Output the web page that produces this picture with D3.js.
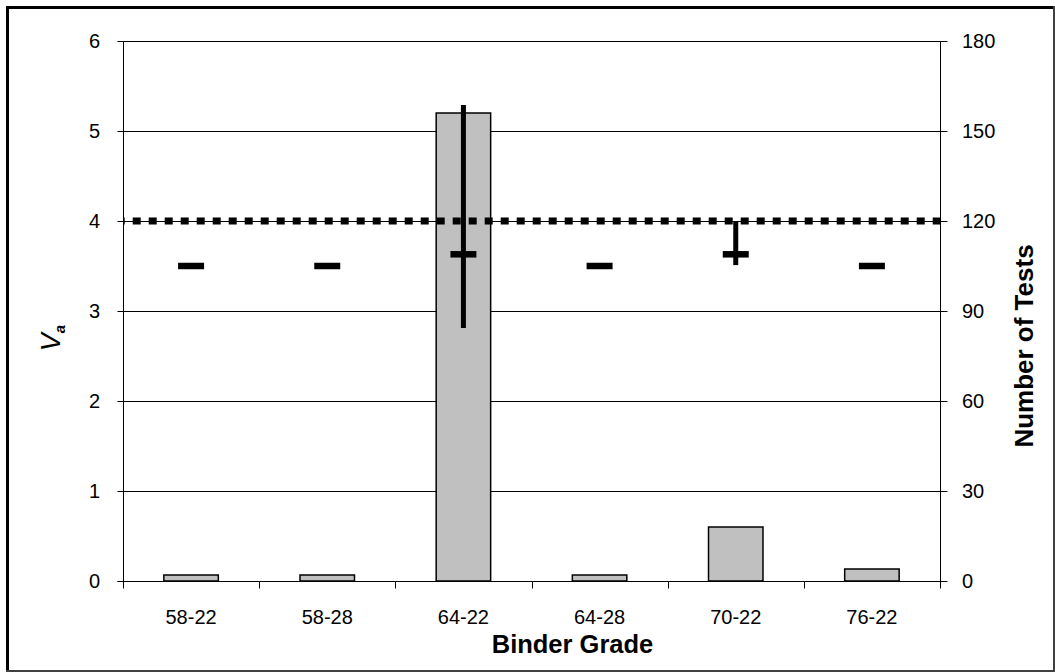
<!DOCTYPE html>
<html>
<head>
<meta charset="utf-8">
<script src="https://cdn.jsdelivr.net/npm/d3@7"></script>
<style>
  html, body { margin: 0; padding: 0; background: #fff; }
  svg { display: block; }
  text { font-family: "Liberation Sans", Arial, sans-serif; fill: #000; }
</style>
</head>
<body>
<svg id="chart" width="1055" height="672"></svg>
<script>
// ---- data ----
const categories = ["58-22", "58-28", "64-22", "64-28", "70-22", "76-22"];
const numTests   = [2, 2, 156, 2, 18, 4];
const vaMean     = [3.5, 3.5, 3.63, 3.5, 3.63, 3.5];
const vaMin      = [3.5, 3.5, 2.81, 3.5, 3.51, 3.5];
const vaMax      = [3.5, 3.5, 5.29, 3.5, 3.99, 3.5];
const vaLimit    = 4;
const leftTicks  = [0, 1, 2, 3, 4, 5, 6];
const rightTicks = [0, 30, 60, 90, 120, 150, 180];

// ---- layout ----
const W = 1055, H = 672;
const plot = { left: 123, right: 940, top: 41, bottom: 581 };
const svg = d3.select("#chart");

const x = d3.scaleBand().domain(categories)
  .range([plot.left, plot.right]).paddingInner(0.6).paddingOuter(0.3);
const y = d3.scaleLinear().domain([0, 6]).range([plot.bottom, plot.top]);
const y2 = d3.scaleLinear().domain([0, 180]).range([plot.bottom, plot.top]);
const step = x.step();
const cx = c => x(c) + x.bandwidth() / 2;

// outer frame
svg.append("rect").attr("x", 6).attr("y", 6).attr("width", 1049).attr("height", 3).attr("fill", "#000");
svg.append("rect").attr("x", 6).attr("y", 6).attr("width", 3).attr("height", 666).attr("fill", "#000");
svg.append("rect").attr("x", 1053).attr("y", 6).attr("width", 2).attr("height", 666).attr("fill", "#404040");
svg.append("rect").attr("x", 6).attr("y", 670).attr("width", 1049).attr("height", 2).attr("fill", "#404040");

// gridlines
const g = svg.append("g").attr("transform", "translate(0.5,0.5)");
g.selectAll("line.grid").data(leftTicks.filter(t => t > 0)).join("line")
  .attr("x1", plot.left).attr("x2", plot.right)
  .attr("y1", d => Math.round(y(d))).attr("y2", d => Math.round(y(d)))
  .attr("stroke", "#000").attr("stroke-width", 1);

// bars (right axis: number of tests)
svg.append("g").selectAll("rect").data(categories).join("rect")
  .attr("x", c => x(c))
  .attr("y", (c, i) => y2(numTests[i]))
  .attr("width", x.bandwidth())
  .attr("height", (c, i) => plot.bottom - y2(numTests[i]))
  .attr("fill", "#c0c0c0").attr("stroke", "#000").attr("stroke-width", 1.5);

// axes lines
g.append("line").attr("x1", plot.left).attr("x2", plot.left)
  .attr("y1", plot.top).attr("y2", plot.bottom).attr("stroke", "#000");
g.append("line").attr("x1", plot.right).attr("x2", plot.right)
  .attr("y1", plot.top).attr("y2", plot.bottom).attr("stroke", "#000");
g.append("line").attr("x1", plot.left - 6).attr("x2", plot.right + 6)
  .attr("y1", plot.bottom).attr("y2", plot.bottom).attr("stroke", "#000");

// left ticks
g.selectAll("line.lt").data(leftTicks).join("line")
  .attr("x1", plot.left - 6).attr("x2", plot.left + 6)
  .attr("y1", d => Math.round(y(d))).attr("y2", d => Math.round(y(d)))
  .attr("stroke", "#000");
svg.selectAll("text.lt").data(leftTicks).join("text")
  .attr("x", 100).attr("y", d => y(d)).attr("dy", "0.36em")
  .attr("text-anchor", "end").attr("font-size", 20).attr("fill", "#222")
  .text(d => d);

// right ticks
g.selectAll("line.rt").data(rightTicks).join("line")
  .attr("x1", plot.right - 6).attr("x2", plot.right + 7)
  .attr("y1", d => Math.round(y2(d))).attr("y2", d => Math.round(y2(d)))
  .attr("stroke", "#000");
svg.selectAll("text.rt").data(rightTicks).join("text")
  .attr("x", 962).attr("y", d => y2(d)).attr("dy", "0.36em")
  .attr("text-anchor", "start").attr("font-size", 20).attr("fill", "#222")
  .text(d => d);

// x ticks at category boundaries
const bounds = d3.range(categories.length + 1).map(i => plot.left + i * step);
g.selectAll("line.xt").data(bounds).join("line")
  .attr("x1", d => Math.round(d)).attr("x2", d => Math.round(d))
  .attr("y1", plot.bottom).attr("y2", plot.bottom + 7)
  .attr("stroke", "#000");
svg.selectAll("text.xl").data(categories).join("text")
  .attr("x", c => cx(c)).attr("y", 624)
  .attr("text-anchor", "middle").attr("font-size", 20).attr("fill", "#222")
  .text(c => c);

// limit line (dotted)
svg.append("line")
  .attr("x1", plot.left).attr("x2", plot.right)
  .attr("y1", y(vaLimit)).attr("y2", y(vaLimit))
  .attr("stroke", "#000").attr("stroke-width", 7)
  .attr("stroke-dasharray", "8 8").attr("stroke-dashoffset", 6.3);

// error bars (min-max)
svg.append("g").selectAll("line").data(categories).join("line")
  .attr("x1", c => cx(c)).attr("x2", c => cx(c))
  .attr("y1", (c, i) => y(vaMax[i])).attr("y2", (c, i) => y(vaMin[i]))
  .attr("stroke", "#000").attr("stroke-width", 5);

// mean markers
svg.append("g").selectAll("line").data(categories).join("line")
  .attr("x1", c => cx(c) - 13).attr("x2", c => cx(c) + 13)
  .attr("y1", (c, i) => y(vaMean[i])).attr("y2", (c, i) => y(vaMean[i]))
  .attr("stroke", "#000").attr("stroke-width", 6.5);

// axis titles
svg.append("text").attr("x", 572.5).attr("y", 653)
  .attr("text-anchor", "middle").attr("font-size", 25.5).attr("font-weight", "bold")
  .text("Binder Grade");

svg.append("text").attr("transform", "translate(1032.5,346) rotate(-90)")
  .attr("text-anchor", "middle").attr("font-size", 26).attr("font-weight", "bold")
  .text("Number of Tests");

const va = svg.append("text").attr("transform", "translate(60,338) rotate(-90)")
  .attr("text-anchor", "middle");
va.append("tspan").attr("font-size", 27).attr("font-style", "italic").text("V");
va.append("tspan").attr("font-size", 15).attr("font-weight", "bold").attr("font-style", "italic")
  .attr("dy", 5).text("a");
</script>
</body>
</html>
